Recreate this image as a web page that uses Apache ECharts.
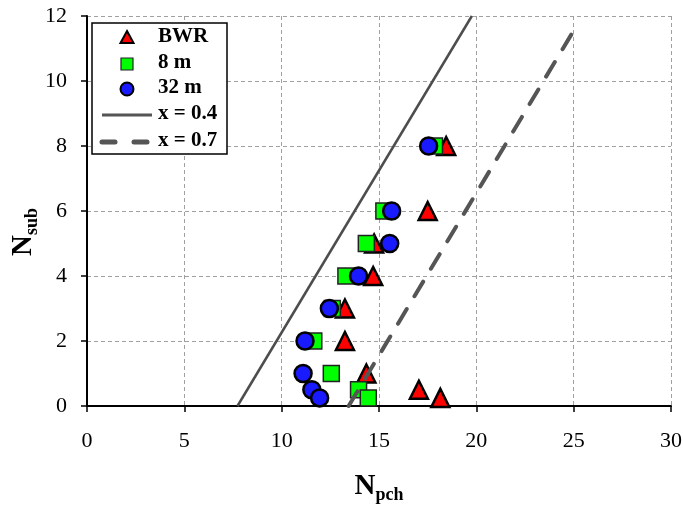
<!DOCTYPE html>
<html><head><meta charset="utf-8">
<script src="https://cdn.jsdelivr.net/npm/echarts@6/dist/echarts.min.js"></script>
<style>html,body{margin:0;padding:0;background:#fff}#c{width:683px;height:505px}</style>
</head><body><div id="c"></div>
<script>
const xTicks = [0, 5, 10, 15, 20, 25, 30];
const yTicks = [0, 2, 4, 6, 8, 10, 12];
const legendNames = ['BWR', '8 m', '32 m', 'x = 0.4', 'x = 0.7'];
const bwr = [[18.45,8],[17.5,6],[14.75,5],[14.7,4],[13.25,3],[13.25,2],[14.35,1],[17.05,0.5],[18.15,0.25]];
const m8 = [[17.85,8],[15.25,6],[14.35,5],[13.3,4],[12.6,3],[11.65,2],[12.55,1],[13.95,0.5],[14.45,0.25]];
const m32 = [[17.55,8],[15.65,6],[15.55,5],[13.95,4],[12.45,3],[11.2,2],[11.1,1],[11.55,0.5],[11.95,0.25]];
const x04 = [[7.73,0],[19.77,12]];
const x07 = [[13.44,0],[25.25,11.8]];

const font = 'Liberation Serif';
const rowY = [38, 64, 89, 115, 142];
const symX = 127, txtX = 158;
const txt = (i) => ({type: 'text', left: txtX, top: rowY[i] - 12, z: 20,
  style: {text: legendNames[i], font: 'bold 21px "Liberation Serif"', fill: '#000'}});
const graphic = [
  {type: 'rect', shape: {x: 92, y: 23, width: 135, height: 131}, z: 18,
    style: {fill: '#fff', stroke: '#000', lineWidth: 1.5}},
  {type: 'polygon', shape: {points: [[symX, rowY[0]-7], [symX+6.5, rowY[0]+5], [symX-6.5, rowY[0]+5]]}, z: 20,
    style: {fill: '#ff0000', stroke: '#000', lineWidth: 2, lineJoin: 'miter'}},
  {type: 'rect', shape: {x: symX-6, y: rowY[1]-6, width: 12, height: 12}, z: 20,
    style: {fill: '#00ff00', stroke: '#222', lineWidth: 1.2}},
  {type: 'circle', shape: {cx: symX, cy: rowY[2], r: 6.5}, z: 20,
    style: {fill: '#1a1aff', stroke: '#000', lineWidth: 2}},
  {type: 'line', shape: {x1: 102, y1: rowY[3], x2: 152, y2: rowY[3]}, z: 20,
    style: {stroke: '#555', lineWidth: 3}},
  {type: 'line', shape: {x1: 102, y1: rowY[4], x2: 115, y2: rowY[4]}, z: 20,
    style: {stroke: '#555', lineWidth: 5, lineCap: 'round'}},
  {type: 'line', shape: {x1: 134, y1: rowY[4], x2: 147, y2: rowY[4]}, z: 20,
    style: {stroke: '#555', lineWidth: 5, lineCap: 'round'}},
  txt(0), txt(1), txt(2), txt(3), txt(4)
];

const chart = echarts.init(document.getElementById('c'));
chart.setOption({
  animation: false,
  textStyle: {fontFamily: font},
  grid: {left: 87, right: 12, top: 16, bottom: 99, outerBoundsMode: 'none', containLabel: false},
  graphic: graphic,
  xAxis: {
    type: 'value', min: 0, max: 30, interval: 5,
    name: '{a|N}{b|pch}', nameLocation: 'middle', nameGap: 64, nameMoveOverlap: false,
    nameTextStyle: {rich: {
      a: {fontFamily: font, fontWeight: 'bold', fontSize: 29, color: '#000'},
      b: {fontFamily: font, fontWeight: 'bold', fontSize: 18, color: '#000', padding: [16, 0, 0, 0]}
    }},
    axisLine: {onZero: false, lineStyle: {color: '#000', width: 2}},
    axisTick: {show: true, inside: false, length: 6, lineStyle: {color: '#000', width: 1.5}},
    axisLabel: {fontFamily: font, fontSize: 22, color: '#000', margin: 24,
      formatter: v => xTicks.includes(v) ? String(v) : ''},
    splitLine: {show: true, lineStyle: {color: '#a0a0a0', type: [4, 3], width: 1}}
  },
  yAxis: {
    type: 'value', min: 0, max: 12, interval: 2,
    name: '{a|N}{b|sub}', nameLocation: 'middle', nameGap: 46, nameMoveOverlap: false,
    nameTextStyle: {padding: [0, 42, 0, 0], rich: {
      a: {fontFamily: font, fontWeight: 'bold', fontSize: 29, color: '#000'},
      b: {fontFamily: font, fontWeight: 'bold', fontSize: 18, color: '#000', padding: [16, 0, 0, 0]}
    }},
    axisLine: {show: true, lineStyle: {color: '#000', width: 2}},
    axisTick: {show: true, inside: false, length: 6, lineStyle: {color: '#000', width: 1.5}},
    axisLabel: {fontFamily: font, fontSize: 22, color: '#000', margin: 20,
      formatter: v => yTicks.includes(v) ? String(v) : ''},
    splitLine: {show: true, lineStyle: {color: '#a0a0a0', type: [4, 3], width: 1}}
  },
  series: [
    {name: 'BWR', type: 'scatter', data: bwr, symbol: 'triangle', symbolSize: 18, z: 2,
      itemStyle: {color: '#ff0000', borderColor: '#000', borderWidth: 2.5, opacity: 1}},
    {name: '8 m', type: 'scatter', data: m8, symbol: 'rect', symbolSize: 16, z: 3,
      itemStyle: {color: '#00ff00', borderColor: '#222', borderWidth: 1.5, opacity: 1}},
    {name: '32 m', type: 'scatter', data: m32, symbol: 'circle', symbolSize: 17, z: 4,
      itemStyle: {color: '#1a1aff', borderColor: '#000', borderWidth: 2.5, opacity: 1}},
    {name: 'x = 0.4', type: 'line', data: x04, symbol: 'none', z: 5,
      lineStyle: {color: '#4d4d4d', width: 2.5, type: 'solid'}},
    {name: 'x = 0.7', type: 'line', data: x07, symbol: 'none', z: 5,
      lineStyle: {color: '#555', width: 4, type: [17, 15], cap: 'round'}}
  ]
});
</script></body></html>
